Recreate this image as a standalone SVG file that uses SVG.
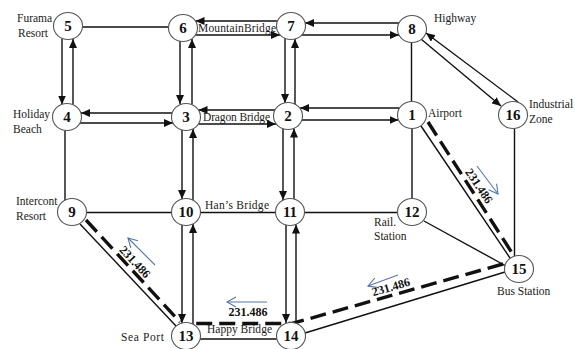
<svg xmlns="http://www.w3.org/2000/svg" width="575" height="349" viewBox="0 0 575 349">
  <style>
    .node ellipse { fill: #ffffff; stroke: #555555; stroke-width: 1.1; }
    .node text { font-family: "Liberation Serif", "Times New Roman", serif; font-size: 15px; font-weight: bold; fill: #111111; text-anchor: middle; }
    .edge { stroke: #111111; stroke-width: 1.4; fill: none; }
    .arr { marker-end: url(#head); }
    .dash { stroke: #111111; stroke-width: 3.4; fill: none; stroke-dasharray: 16 7; }
    .dir { stroke: #5577a8; stroke-width: 1.1; fill: none; marker-end: url(#open); }
    .lbl { font-family: "Liberation Serif", "Times New Roman", serif; font-size: 11.5px; fill: #1a1a1a; }
    .dist { font-family: "Liberation Serif", "Times New Roman", serif; font-size: 12px; font-weight: bold; fill: #111111; text-anchor: middle; }
  </style>
  <defs>
    <marker id="head" markerUnits="userSpaceOnUse" markerWidth="9" markerHeight="8" refX="9" refY="4" orient="auto">
      <path d="M0,0 L9,4 L0,8 z" fill="#111111"/>
    </marker>
    <marker id="open" markerUnits="userSpaceOnUse" markerWidth="12" markerHeight="12" refX="10" refY="6" orient="auto">
      <path d="M1,1 L10,6 L1,11" fill="none" stroke="#5577a8" stroke-width="1.1"/>
    </marker>
  </defs>

  <rect x="0" y="0" width="575" height="349" fill="#ffffff"/>

  <g id="connectors">
    <!-- plain roads -->
    <path class="edge" d="M82.5,27 H168.5"/>
    <path class="edge" d="M411.5,42.5 V101.5"/>
    <path class="edge" d="M412,128.5 V198.5"/>
    <path class="edge" d="M65,130.5 V200"/>
    <path class="edge" d="M86.5,212.5 H171.5"/>
    <path class="edge" d="M200.5,212.5 H275.5"/>
    <path class="edge" d="M304.5,212.5 H397.5"/>
    <path class="edge" d="M514.5,128.5 V256"/>
    <path class="edge" d="M424,221 L506,266"/>
    <path class="edge" d="M305,333 L505,272"/>
    <path class="edge" d="M200,339 H277"/>
    <path class="edge" d="M421,126 L510,258"/>
    <path class="edge" d="M80,224 L176,326"/>

    <!-- two-way roads -->
    <path class="edge arr" d="M62,38.5 V104.5"/>
    <path class="edge arr" d="M73,104.5 V39"/>
    <path class="edge arr" d="M180,41 V104"/>
    <path class="edge arr" d="M192,104.5 V39"/>
    <path class="edge arr" d="M277.5,21 H195.5"/>
    <path class="edge arr" d="M195.5,35 H280"/>
    <path class="edge arr" d="M285,38.5 V103"/>
    <path class="edge arr" d="M295,104 V39"/>
    <path class="edge arr" d="M399,23 H305"/>
    <path class="edge arr" d="M302,35 H399"/>
    <path class="edge arr" d="M172,113 H81"/>
    <path class="edge arr" d="M80,123 H173"/>
    <path class="edge arr" d="M275,110 H198.5"/>
    <path class="edge arr" d="M198.5,124 H276"/>
    <path class="edge arr" d="M399.5,108 H300"/>
    <path class="edge arr" d="M302,120 H398.5"/>
    <path class="edge arr" d="M182,130 V199"/>
    <path class="edge arr" d="M193,200 V129"/>
    <path class="edge arr" d="M283,129 V200"/>
    <path class="edge arr" d="M294,199 V128.5"/>
    <path class="edge arr" d="M182,225 V323"/>
    <path class="edge arr" d="M193,324 V224"/>
    <path class="edge arr" d="M286,225 V323"/>
    <path class="edge arr" d="M296,323 V224.5"/>
    <path class="edge arr" d="M421,39 L501,106"/>
    <path class="edge arr" d="M518,102 L426,33"/>

    <!-- shortest route -->
    <path class="dash" d="M428,122 L514,256"/>
    <path class="dash" d="M503,264 L292,323.5 H193"/>
    <path class="dash" d="M86,220 L180,322"/>

    <!-- travel direction -->
    <path class="dir" d="M477,166 L498,194"/>
    <path class="dir" d="M155,265 L128,238"/>
    <path class="dir" d="M267,302 H227"/>
    <path class="dir" d="M398,275 L368,286"/>

    <!-- distances -->
    <text class="dist" transform="translate(479,186) rotate(56)" y="4">231.486</text>
    <text class="dist" transform="translate(135,262) rotate(47)" y="4">231.486</text>
    <text class="dist" x="248" y="316">231.486</text>
    <text class="dist" transform="translate(391,287) rotate(-16)" y="4">231.486</text>
  </g>

  <!-- place names -->
  <g id="labels">
    <text class="lbl" x="17" y="22">Furama</text>
    <text class="lbl" x="18" y="37">Resort</text>
    <text class="lbl" x="13" y="118">Holiday</text>
    <text class="lbl" x="13" y="133">Beach</text>
    <text class="lbl" x="16" y="205">Intercont</text>
    <text class="lbl" x="16" y="219.5">Resort</text>
    <text class="lbl" x="198" y="32" textLength="78">MountainBridge</text>
    <text class="lbl" x="434" y="22">Highway</text>
    <text class="lbl" x="428" y="117">Airport</text>
    <text class="lbl" x="529" y="108">Industrial</text>
    <text class="lbl" x="529" y="123">Zone</text>
    <text class="lbl" x="203" y="121" textLength="67">Dragon Bridge</text>
    <text class="lbl" x="205" y="209" textLength="64">Han’s Bridge</text>
    <text class="lbl" x="374" y="226">Rail.</text>
    <text class="lbl" x="374" y="239.5">Station</text>
    <text class="lbl" x="497" y="295">Bus Station</text>
    <text class="lbl" x="121" y="341" textLength="43">Sea  Port</text>
    <text class="lbl" x="207" y="333" textLength="65">Happy Bridge</text>
  </g>

  <g id="n1" class="node"><ellipse cx="412" cy="115" rx="14.5" ry="13.5"/><text x="412" y="120">1</text></g>
  <g id="n2" class="node"><ellipse cx="288" cy="116" rx="14.5" ry="13.5"/><text x="288" y="121">2</text></g>
  <g id="n3" class="node"><ellipse cx="186" cy="117" rx="14.5" ry="13.5"/><text x="186" y="122">3</text></g>
  <g id="n4" class="node"><ellipse cx="67" cy="117" rx="14.5" ry="13.5"/><text x="67" y="122">4</text></g>
  <g id="n5" class="node"><ellipse cx="68" cy="26" rx="14.5" ry="13.5"/><text x="68" y="31">5</text></g>
  <g id="n6" class="node"><ellipse cx="183" cy="28" rx="14.5" ry="13.5"/><text x="183" y="33">6</text></g>
  <g id="n7" class="node"><ellipse cx="291" cy="26" rx="14.5" ry="13.5"/><text x="291" y="31">7</text></g>
  <g id="n8" class="node"><ellipse cx="412" cy="29" rx="14.5" ry="13.5"/><text x="412" y="34">8</text></g>
  <g id="n9" class="node"><ellipse cx="72" cy="212" rx="14.5" ry="13.5"/><text x="72" y="217">9</text></g>
  <g id="n10" class="node"><ellipse cx="186" cy="212" rx="14.5" ry="13.5"/><text x="186" y="217">10</text></g>
  <g id="n11" class="node"><ellipse cx="290" cy="212" rx="14.5" ry="13.5"/><text x="290" y="217">11</text></g>
  <g id="n12" class="node"><ellipse cx="412" cy="212" rx="14.5" ry="13.5"/><text x="412" y="217">12</text></g>
  <g id="n13" class="node"><ellipse cx="186" cy="336" rx="14.5" ry="13.5"/><text x="186" y="341">13</text></g>
  <g id="n14" class="node"><ellipse cx="291" cy="336" rx="14.5" ry="13.5"/><text x="291" y="341">14</text></g>
  <g id="n15" class="node"><ellipse cx="519" cy="269" rx="14.5" ry="13.5"/><text x="519" y="274">15</text></g>
  <g id="n16" class="node"><ellipse cx="513" cy="115" rx="14.5" ry="13.5"/><text x="513" y="120">16</text></g>
</svg>
